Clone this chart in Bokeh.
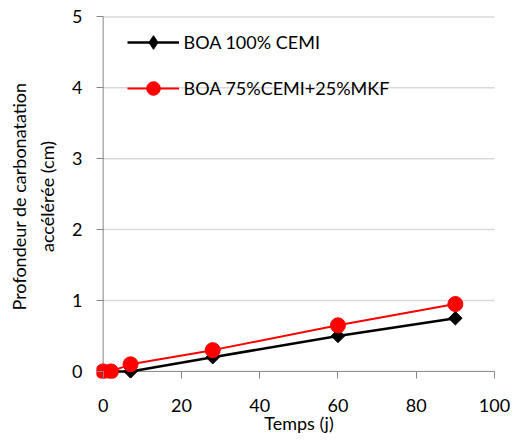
import math
from bokeh.plotting import figure
from bokeh.models import (Range1d, FixedTicker, Legend, LegendItem, LinearAxis,
                          ColumnDataSource)
from bokeh.embed import file_html
from bokeh.resources import INLINE

# ---- data ----
days = [0, 2, 7, 28, 60, 90]
boa_100_cemi = [0, 0, 0, 0.2, 0.5, 0.75]
boa_75_cemi_25_mkf = [0, 0, 0.1, 0.3, 0.65, 0.95]
series_names = ["BOA 100% CEMI", "BOA 75%CEMI+25%MKF"]
x_ticks = [0, 20, 40, 60, 80, 100]
y_ticks = [0, 1, 2, 3, 4, 5]
x_title = "Temps (j)"
y_title_lines = ["Profondeur de carbonatation", "accélérée (cm)"]

FONT = "Lato"
FS = "18px"
TXT = "#000000"
AXIS_C = "#868686"
GRID_C = "#d9d9d9"

p = figure(width=519, height=441,
           min_border_left=96, min_border_right=18,
           min_border_top=14, min_border_bottom=63,
           x_range=Range1d(-1.7, 101.79), y_range=Range1d(-0.1, 5.034),
           output_backend="svg", toolbar_location=None)
p.outline_line_color = None
p.background_fill_color = "white"
p.border_fill_color = "white"
p.xgrid.visible = False
p.ygrid.visible = False

# horizontal gridlines across the data span
grid_y = y_ticks[1:]
p.segment(x0=[x_ticks[0]] * len(grid_y), x1=[x_ticks[-1]] * len(grid_y),
          y0=grid_y, y1=grid_y, line_color=GRID_C, line_width=1.5)

# axis lines crossing at the origin
p.segment(x0=[x_ticks[0], x_ticks[0]], x1=[x_ticks[-1], x_ticks[0]],
          y0=[y_ticks[0], y_ticks[0]], y1=[y_ticks[0], y_ticks[-1]],
          line_color=AXIS_C, line_width=1)

# axes (ticks/labels)
for ax in (p.xaxis[0], p.yaxis[0]):
    ax.axis_line_color = None
    ax.major_tick_line_color = AXIS_C
    ax.minor_tick_line_color = None
    ax.major_tick_out = 0
    ax.major_tick_in = 7
    ax.major_label_text_font = FONT
    ax.major_label_text_font_size = FS
    ax.major_label_text_color = TXT
    ax.axis_label_text_font = FONT
    ax.axis_label_text_font_size = FS
    ax.axis_label_text_font_style = "normal"
    ax.axis_label_text_color = TXT
p.xaxis.ticker = FixedTicker(ticks=x_ticks)
p.yaxis.ticker = FixedTicker(ticks=y_ticks)
p.xaxis.major_label_standoff = 20
p.yaxis.major_label_standoff = 14
p.xaxis.axis_label = x_title
p.xaxis.axis_label_standoff = -3
p.yaxis.axis_label = y_title_lines[1]
p.yaxis.axis_label_standoff = 11

# outer title line on a tick-less axis
outer = LinearAxis(ticker=FixedTicker(ticks=[]), axis_label=y_title_lines[0],
                   axis_line_color=None, major_tick_line_color=None,
                   minor_tick_line_color=None, major_tick_in=0, major_tick_out=0,
                   minor_tick_in=0, minor_tick_out=0, major_label_standoff=0,
                   axis_label_standoff=4, axis_label_text_font=FONT,
                   axis_label_text_font_size=FS, axis_label_text_font_style="normal",
                   axis_label_text_color=TXT)
p.add_layout(outer, "left")

# series
src = ColumnDataSource(dict(x=days, b=boa_100_cemi, r=boa_75_cemi_25_mkf))
lb = p.line("x", "b", source=src, line_color="black", line_width=2.5)
mb = p.scatter("x", "b", source=src, marker="square", size=9.5, angle=math.pi / 4,
               fill_color="black", line_color="black")
lr = p.line("x", "r", source=src, line_color="#ff0000", line_width=2)
mr = p.scatter("x", "r", source=src, marker="circle", size=15,
               fill_color="#ff0000", line_color="#ff0000")

# legend-only diamond (on a far-away range so it stays out of the frame)
p.extra_y_ranges = {"hidden": Range1d(1000, 1001)}
mb_leg = p.scatter("x", "b", source=src, marker="diamond", size=13,
                   fill_color="black", line_color="black", y_range_name="hidden")

# legend position relative to the frame's bottom-left corner (frame bottom at 378)
legend = Legend(items=[LegendItem(label=series_names[0], renderers=[lb, mb_leg]),
                       LegendItem(label=series_names[1], renderers=[lr, mr])],
                location=(30.5, 272.7), orientation="vertical")
legend.border_line_color = None
legend.background_fill_alpha = 0
legend.padding = 0
legend.margin = 0
legend.spacing = 12
legend.glyph_width = 52
legend.glyph_height = 34
legend.label_height = 34
legend.label_standoff = 5
legend.label_text_font = FONT
legend.label_text_font_size = FS
legend.label_text_color = TXT
p.add_layout(legend, "center")

open("out.html", "w").write(file_html(p, INLINE))
